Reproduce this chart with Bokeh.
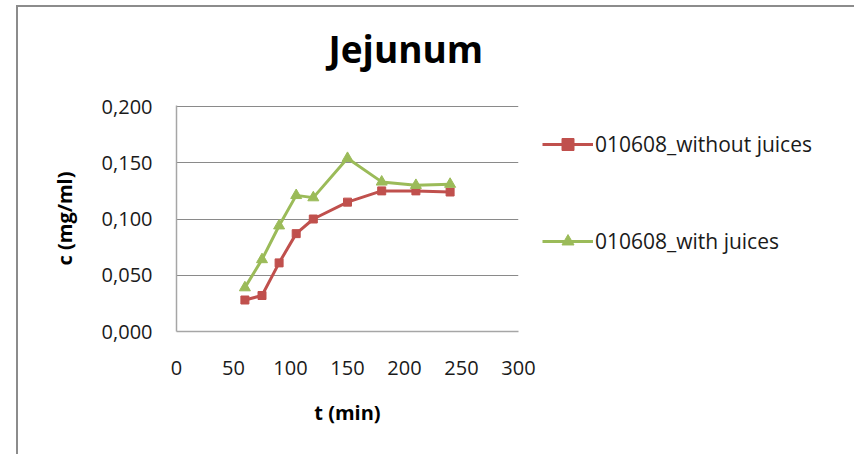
from bokeh.plotting import figure
from bokeh.models import Range1d, FixedTicker, CustomJSTickFormatter, Legend, LegendItem, Title
from bokeh.embed import file_html
from bokeh.resources import INLINE

# Sampling times (min) and concentrations (mg/ml)
t_min = [60, 75, 90, 105, 120, 150, 180, 210, 240]
c_without_juices = [0.028, 0.032, 0.061, 0.087, 0.100, 0.115, 0.125, 0.125, 0.124]
c_with_juices = [0.039, 0.064, 0.094, 0.121, 0.119, 0.154, 0.133, 0.130, 0.131]

series_names = ["010608_without juices", "010608_with juices"]
x_ticks = [0, 50, 100, 150, 200, 250, 300]
y_ticks = [0.0, 0.05, 0.10, 0.15, 0.20]

RED = "#C0504D"
GREEN = "#9BBB59"
FONT = "Open Sans"

p = figure(frame_width=342, frame_height=226, output_backend="svg", toolbar_location=None,
           x_range=Range1d(0, 300), y_range=Range1d(0, 0.2009),
           min_border_left=158, min_border_right=330,
           min_border_top=98, min_border_bottom=125,
           margin=(7, 0, 0, 18),
           styles={"box-shadow": "-2px -2px 0 0 #8c8c8c, 2px -2px 0 0 #8c8c8c"})
p.outline_line_color = None
p.background_fill_color = "white"
p.border_fill_color = "white"

# gap between the plot area and the title
p.add_layout(Title(text=" ", text_font_size="1px", standoff=22), "above")

# title
p.title.text = "Jejunum"
p.title.text_font = FONT
p.title.text_font_size = "37px"
p.title.text_font_style = "bold"
p.title.text_color = "#000000"
p.title.align = "left"
p.title.offset = 152
p.title.vertical_align = "top"
p.title.standoff = 10

# axes
p.xaxis.ticker = FixedTicker(ticks=x_ticks)
p.yaxis.ticker = FixedTicker(ticks=y_ticks)
p.yaxis.formatter = CustomJSTickFormatter(code="return tick.toFixed(3).replace('.', ',');")
for ax in (p.xaxis[0], p.yaxis[0]):
    ax.major_tick_in = 0
    ax.major_tick_out = 0
    ax.minor_tick_in = 0
    ax.minor_tick_out = 0
    ax.axis_line_color = "#a6a6a6"
    ax.axis_line_width = 1.5
    ax.major_label_text_font = FONT
    ax.major_label_text_font_size = "20px"
    ax.major_label_text_color = "#1a1a1a"
    ax.axis_label_text_font = FONT
    ax.axis_label_text_font_size = "20px"
    ax.axis_label_text_font_style = "bold"
    ax.axis_label_text_color = "#000000"

p.xaxis.axis_label = "t (min)"
p.yaxis.axis_label = "c (mg/ml)"
p.xaxis.major_label_standoff = 29
p.yaxis.major_label_standoff = 24
p.xaxis.axis_label_standoff = 21
p.yaxis.axis_label_standoff = 21

p.xgrid.grid_line_color = None
p.ygrid.grid_line_color = "#8a8a8a"
p.ygrid.grid_line_width = 1

# series
r1_line = p.line(t_min, c_without_juices, line_color=RED, line_width=3)
r1_pts = p.scatter(t_min, c_without_juices, marker="square", size=8,
                   fill_color=RED, line_color=RED)
r2_line = p.line(t_min, c_with_juices, line_color=GREEN, line_width=3)
r2_pts = p.scatter(t_min, c_with_juices, marker="triangle", size=11,
                   fill_color=GREEN, line_color=GREEN)

legend = Legend(items=[LegendItem(label=series_names[0], renderers=[r1_line, r1_pts]),
                       LegendItem(label=series_names[1], renderers=[r2_line, r2_pts])],
                location="top_left", orientation="vertical",
                glyph_width=51, glyph_height=30, label_height=30,
                label_standoff=2, spacing=67, padding=0, margin=24,
                border_line_color=None, background_fill_alpha=0,
                label_text_font=FONT, label_text_font_size="21px",
                label_text_color="#1a1a1a")
p.add_layout(legend, "right")

open("out.html", "w").write(file_html(p, INLINE))
